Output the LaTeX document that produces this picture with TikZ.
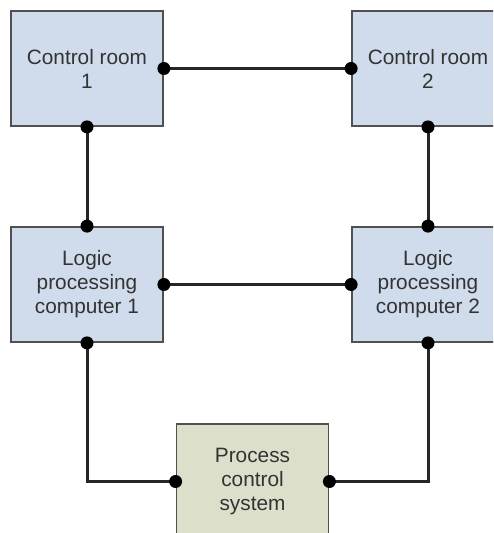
\documentclass[tikz,border=0pt]{standalone}
\usepackage{fontspec}
\setmainfont{Liberation Sans}
\usetikzlibrary{positioning,calc}
\definecolor{RoomBlue}{HTML}{D0DBEC}
\definecolor{PlantGreen}{HTML}{DCE0CA}
\definecolor{EdgeGray}{HTML}{505050}
\definecolor{TextGray}{HTML}{333333}

\begin{document}
\begin{tikzpicture}[x=1pt, y=-1pt,
  unit/.style={draw=EdgeGray, line width=1.8pt, fill=RoomBlue, align=center, minimum width=152pt, minimum height=115pt, inner sep=0pt, text=TextGray, font=\fontsize{20.8}{24}\selectfont},
  plant/.style={unit, fill=PlantGreen},
  link/.style={line width=3pt, draw=black!85},
  jn/.style={fill=black, circle, inner sep=0pt, minimum size=13pt}]
\useasboundingbox (0,0) rectangle (493,533);
\begin{scope}
\clip (0,0) rectangle (493,533);
\node[unit]  (cr1)  at (87,68.5)   {Control room\\1};
\node[unit]  (cr2)  at (428,68.5)  {Control room\\2};
\node[unit]  (lpc1) at (87,284.5)  {Logic\\processing\\computer 1};
\node[unit]  (lpc2) at (428,284.5) {Logic\\processing\\computer 2};
\node[plant] (pcs)  at (252.5,481.5) {Process\\control\\system};
% connections between the stations
\draw[link] (cr1.east) -- (cr2.west);
\draw[link] (cr1.south) -- (lpc1.north);
\draw[link] (cr2.south) -- (lpc2.north);
\draw[link] (lpc1.east) -- (lpc2.west);
\draw[link] (lpc1.south) |- (pcs.west);
\draw[link] (lpc2.south) |- (pcs.east);
% junction dots
\foreach \p in {cr1.east,cr2.west,cr1.south,cr2.south,lpc1.north,lpc2.north,lpc1.east,lpc2.west,lpc1.south,lpc2.south,pcs.west,pcs.east}
  \node[jn] at (\p) {};
\end{scope}
\end{tikzpicture}
\end{document}
